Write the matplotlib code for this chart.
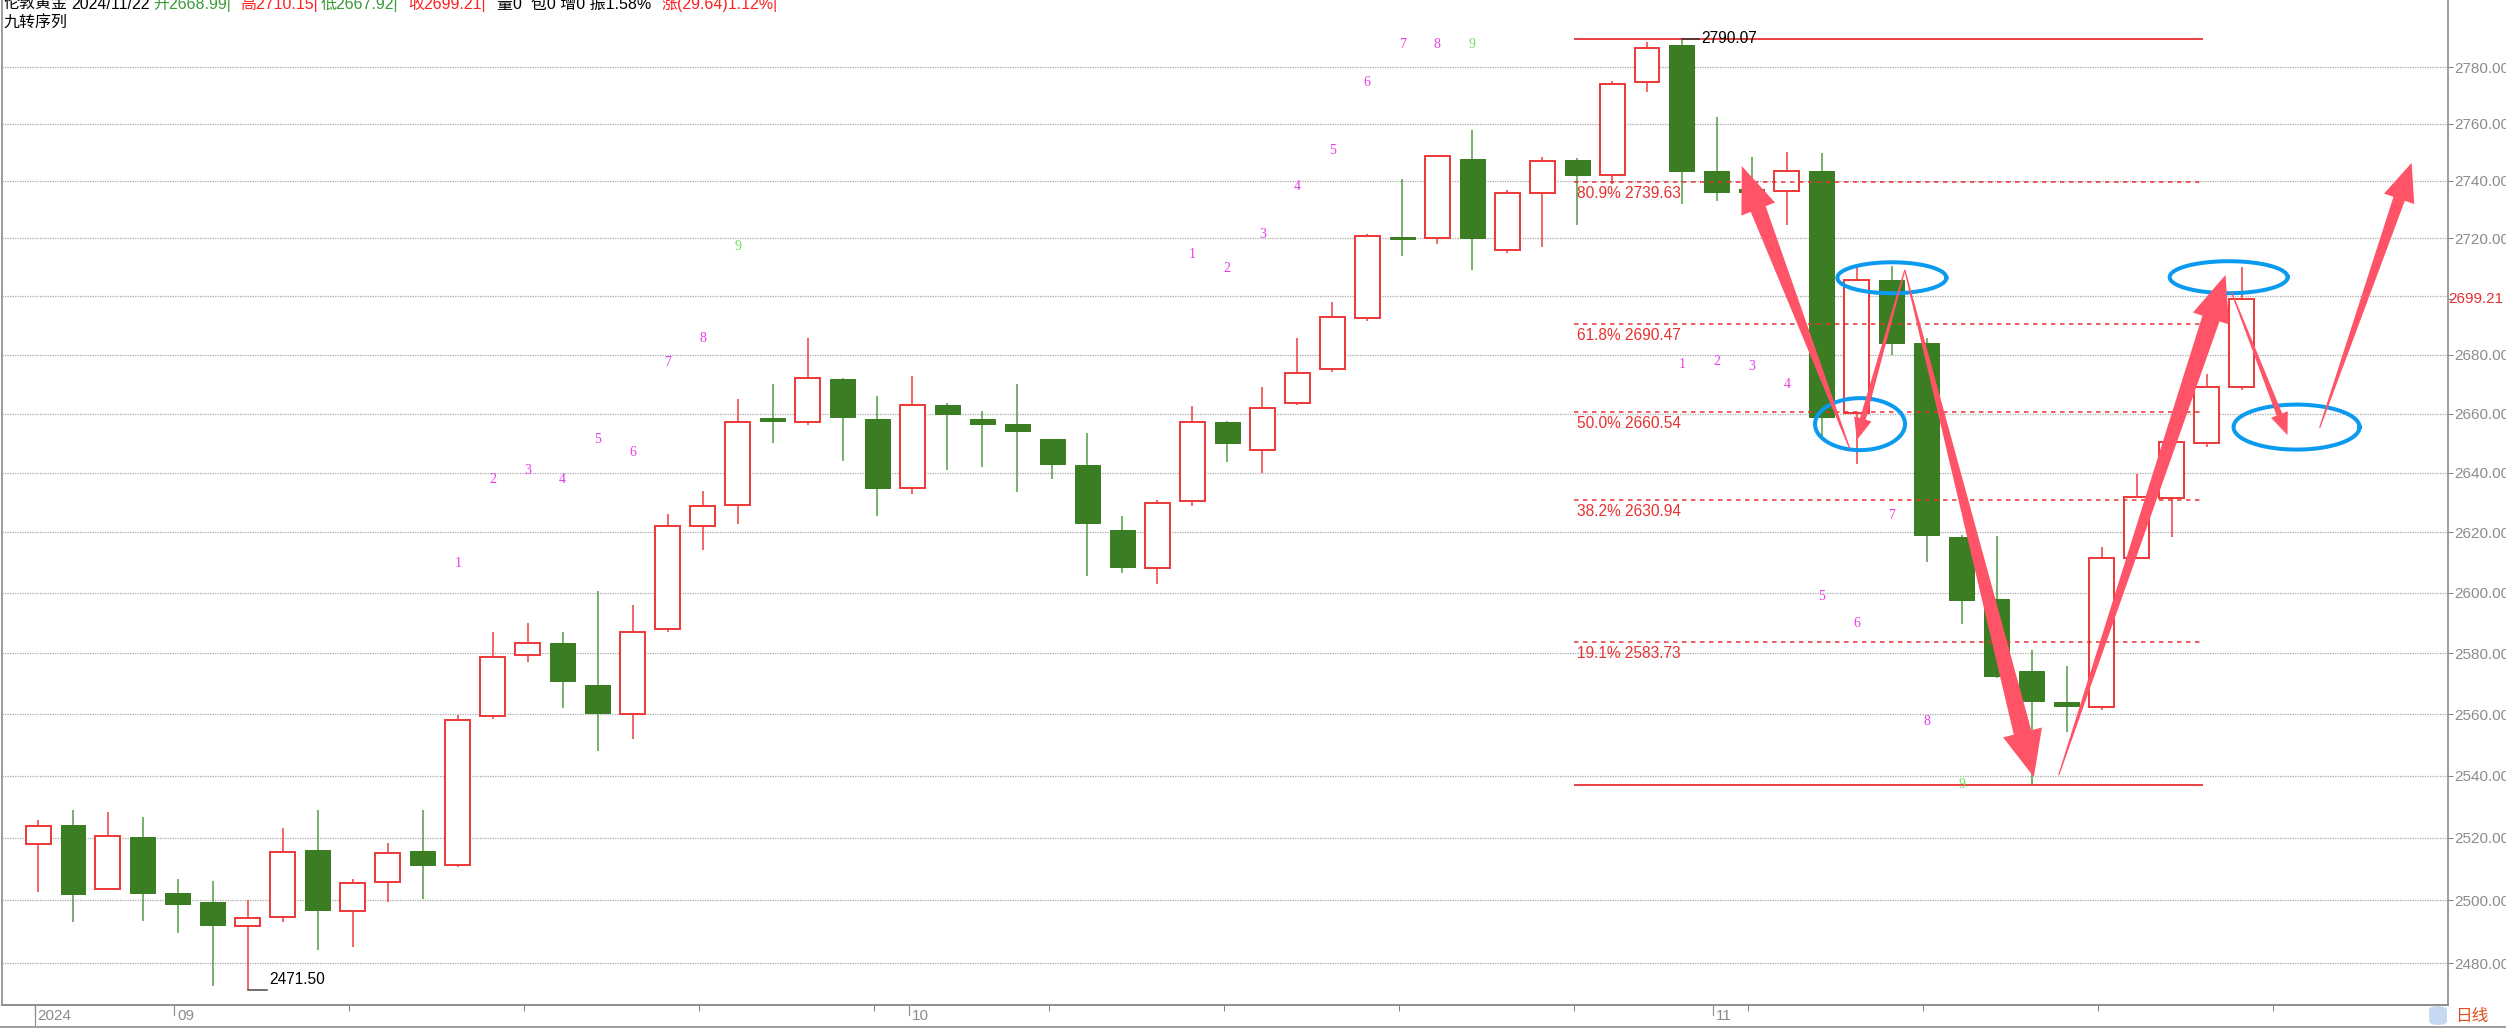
import numpy as np
import matplotlib.pyplot as plt
from matplotlib.ticker import NullLocator
from matplotlib.patches import FancyBboxPatch
from matplotlib.lines import Line2D

W, H = 2506, 1028
plt.rcParams['font.family'] = ['Liberation Sans', 'Noto Sans CJK SC', 'DejaVu Sans']

# daily candles, 2024-08-27 .. 2024-11-22 (index 0..63)
opens = [2518.1, 2524.1, 2503.7, 2520.2, 2502.5, 2499.5, 2491.9, 2494.7, 2516.0, 2496.6,
         2505.9, 2515.7, 2511.4, 2559.5, 2579.3, 2583.4, 2569.4, 2560.0, 2588.0, 2622.3,
         2629.3, 2658.5, 2657.0, 2671.6, 2658.0, 2635.0, 2663.0, 2658.3, 2656.3, 2651.3,
         2642.7, 2620.7, 2608.0, 2630.4, 2657.0, 2647.5, 2663.4, 2675.0, 2692.5, 2720.6,
         2720.0, 2747.5, 2716.0, 2735.7, 2747.4, 2741.9, 2774.9, 2787.7, 2743.6, 2737.3,
         2736.5, 2743.3, 2660.3, 2705.6, 2683.9, 2618.6, 2597.8, 2574.1, 2564.0, 2562.4,
         2611.6, 2631.4, 2650.0, 2668.99]
highs = [2525.7, 2528.9, 2528.4, 2526.7, 2506.8, 2506.2, 2500.0, 2523.1, 2528.9, 2506.7,
         2518.2, 2528.9, 2559.6, 2587.0, 2590.0, 2587.0, 2600.5, 2596.0, 2626.0, 2634.0,
         2665.0, 2670.0, 2685.6, 2672.0, 2666.0, 2672.6, 2663.5, 2661.0, 2670.0, 2651.5,
         2653.4, 2625.6, 2631.0, 2662.4, 2657.5, 2669.0, 2685.6, 2698.0, 2721.4, 2740.7,
         2749.0, 2758.0, 2737.0, 2748.4, 2748.0, 2775.1, 2789.0, 2790.07, 2762.3, 2748.2,
         2750.1, 2749.8, 2710.2, 2710.5, 2685.6, 2619.0, 2618.8, 2581.2, 2575.7, 2615.0,
         2639.5, 2650.5, 2673.4, 2710.15]
lows = [2502.7, 2493.2, 2503.2, 2493.6, 2489.7, 2472.9, 2471.5, 2493.0, 2484.4, 2485.1,
        2499.5, 2500.4, 2510.6, 2558.4, 2577.0, 2562.0, 2548.0, 2552.0, 2587.0, 2614.0,
        2622.8, 2650.0, 2656.0, 2644.0, 2625.6, 2633.0, 2641.0, 2642.0, 2633.5, 2638.0,
        2605.5, 2606.5, 2603.0, 2629.0, 2643.5, 2640.0, 2663.0, 2674.0, 2691.4, 2714.0,
        2718.0, 2709.0, 2715.0, 2717.0, 2724.7, 2739.0, 2771.2, 2731.9, 2733.0, 2731.0,
        2724.7, 2652.2, 2643.1, 2679.9, 2610.2, 2589.5, 2572.0, 2536.9, 2554.1, 2561.5,
        2611.0, 2618.6, 2648.7, 2667.92]
closes = [2523.9, 2501.9, 2520.5, 2502.5, 2499.0, 2492.1, 2494.4, 2515.6, 2496.8, 2505.6,
          2515.3, 2511.3, 2558.2, 2578.8, 2583.4, 2571.0, 2560.5, 2587.0, 2622.0, 2628.7,
          2657.0, 2657.5, 2672.0, 2658.7, 2635.0, 2663.0, 2660.0, 2656.4, 2654.0, 2643.0,
          2623.0, 2608.6, 2630.0, 2657.0, 2650.0, 2661.8, 2673.6, 2693.0, 2720.7, 2719.8,
          2748.6, 2720.0, 2735.7, 2747.0, 2741.9, 2774.1, 2786.7, 2743.5, 2736.1, 2736.3,
          2743.6, 2658.7, 2705.6, 2683.9, 2619.0, 2597.7, 2572.5, 2564.4, 2562.6, 2611.4,
          2631.9, 2650.2, 2669.0, 2699.21]

# x axis: month starts and mondays
month_pos = [0, 4, 25, 48]
month_labels = ['2024', '09', '10', '11']
week_pos = [9, 14, 19, 24, 29, 34, 39, 44, 49, 54, 59, 64]

y_ticks = [2480, 2500, 2520, 2540, 2560, 2580, 2600, 2620, 2640, 2660, 2680, 2720, 2740, 2760, 2780]
grid_levels = [2480, 2500, 2520, 2540, 2560, 2580, 2600, 2620, 2640, 2660, 2680, 2700, 2720, 2740, 2760, 2780]
last_price = 2699.21

# fibonacci retracement (log scale)
swing_high = 2790.07
swing_low = 2537.0
fib_pct = ['80.9%', '61.8%', '50.0%', '38.2%', '19.1%']
fib_vals = [2739.63, 2690.47, 2660.54, 2630.94, 2583.73]
fib_span = (43.9, 61.9)

# TD sequential (九转) setups
sell_starts = [12, 33]
buy_starts = [47]

# hand drawn marks: ellipses (centre index, centre price, w px, h px)
ell_x = [52.09, 53.0, 62.63, 64.57]
ell_p = [2656.4, 2706.4, 2706.6, 2655.4]
ell_w = [90, 109, 118, 126]
ell_h = [52, 31, 32, 45]

# arrows (tail index, tail price, head index, head price, shaft px, head width px, head length px)
arr_x0 = [51.8, 53.37, 53.37, 57.77, 62.71, 65.23]
arr_p0 = [2648.0, 2709.1, 2709.1, 2540.2, 2701.5, 2655.1]
arr_x1 = [48.71, 52.0, 57.06, 62.54, 64.31, 67.86]
arr_p1 = [2745.2, 2651.0, 2539.6, 2707.4, 2652.7, 2746.3]
arr_shaft = [16, 6, 18, 18, 6, 12]
arr_hw = [36, 18, 40, 38, 18, 32]
arr_hl = [46, 22, 46, 46, 22, 38]

UP = '#EE3B3B'
DOWN = '#3A7D22'
DOWN_WICK = '#4E9A3E'
GRAY = '#8C8C8C'
PX = 0.72

fig = plt.figure(figsize=(W / 100, H / 100), dpi=100)
fig.patch.set_facecolor('white')
ax = fig.add_axes([2 / W, 23 / H, 2446 / W, 1005 / H])
ax.set_yscale('log')
ax.set_xlim(-1.03, 68.9)
ax.set_ylim(2466.9, 2803.9)
ax.yaxis.set_minor_locator(NullLocator())
ax.xaxis.set_minor_locator(NullLocator())

for g in grid_levels:
    ax.axhline(g, color='#A8A8A8', lw=0.9, ls=(0, (1, 1)), zorder=0)

# candles
idx = np.arange(len(opens))
bw = 25 / 35
for i in idx:
    o, h, l, c = opens[i], highs[i], lows[i], closes[i]
    top, bot = max(o, c), min(o, c)
    if c >= o:
        ax.vlines(i, top, h, color=UP, lw=1.5 * PX, zorder=2)
        ax.vlines(i, l, bot, color=UP, lw=1.5 * PX, zorder=2)
        ax.bar(i, top - bot, bottom=bot, width=bw, facecolor='white', edgecolor=UP, lw=2 * PX, zorder=3)
    else:
        ax.vlines(i, l, h, color=DOWN_WICK, lw=1.5 * PX, zorder=2)
        ax.bar(i, max(top - bot, 0.4), bottom=bot, width=bw, facecolor=DOWN, edgecolor=DOWN, lw=1 * PX, zorder=3)

# fib lines
ax.hlines([swing_high, swing_low], *fib_span, color='#E84545', lw=2 * PX, zorder=4)
for pct, v in zip(fib_pct, fib_vals):
    ax.hlines(v, *fib_span, color='#E83030', lw=1.5 * PX, ls=(0, (3, 3)), zorder=4)
    ax.annotate(f'{pct} {v:.2f}', (fib_span[0], v), xytext=(3, -4), textcoords='offset pixels',
                ha='left', va='top', color='#E83030', fontsize=11.2, zorder=6)

# extreme markers
i_hi = int(np.argmax(highs))
i_lo = int(np.argmin(lows))
ax.plot([i_hi, i_hi + 0.5], [highs[i_hi]] * 2, color='#333333', lw=1.5 * PX, zorder=5)
ax.annotate(f'{highs[i_hi]:.2f}', (i_hi + 0.55, highs[i_hi]), ha='left', va='center',
            fontsize=11.2, color='black', zorder=6)
ax.plot([i_lo, i_lo + 0.55], [lows[i_lo]] * 2, color='#444444', lw=1.5 * PX, zorder=5)
ax.annotate(f'{lows[i_lo]:.2f}', (i_lo + 0.62, lows[i_lo]), xytext=(0, 3), textcoords='offset pixels',
            ha='left', va='bottom', fontsize=11.2, color='black', zorder=6)

# TD numbers
fig.canvas.draw()
to_px = ax.transData.transform
to_data = ax.transData.inverted().transform
top_px = H - 45
for s in sell_starts:
    for k in range(9):
        i = s + k
        y = min(to_px((i, highs[i]))[1] + 152, top_px)
        xd, yd = to_data((to_px((i, highs[i]))[0], y))
        ax.text(xd, yd, str(k + 1), ha='center', va='center', fontsize=10,
                family='Liberation Serif', color='#6CE05C' if k == 8 else '#E83CE8', zorder=6)
for s in buy_starts:
    for k in range(9):
        i = s + k
        p = to_px((i, lows[i]))
        xd, yd = to_data((p[0], p[1] - 160))
        ax.text(xd, yd, str(k + 1), ha='center', va='center', fontsize=10,
                family='Liberation Serif', color='#6CE05C' if k == 8 else '#E83CE8', zorder=6)

# ellipses
t = np.linspace(0, 2 * np.pi, 200)
for cx, cp, w, h in zip(ell_x, ell_p, ell_w, ell_h):
    c = to_px((cx, cp))
    pts = np.column_stack([c[0] + w / 2 * np.cos(t), c[1] + h / 2 * np.sin(t)])
    d = to_data(pts)
    ax.plot(d[:, 0], d[:, 1], color='#0A9BF0', lw=4 * PX, zorder=7)

# fat arrows
for x0, p0, x1, p1, sw, hw, hl in zip(arr_x0, arr_p0, arr_x1, arr_p1, arr_shaft, arr_hw, arr_hl):
    a = to_px((x0, p0))
    b = to_px((x1, p1))
    u = (b - a) / np.hypot(*(b - a))
    n = np.array([-u[1], u[0]])
    base = b - u * hl
    pts = np.array([a + n * 0.6, base + n * sw / 2, base + n * hw / 2, b,
                    base - n * hw / 2, base - n * sw / 2, a - n * 0.6])
    d = to_data(pts)
    ax.fill(d[:, 0], d[:, 1], color='#FF5468', lw=0, zorder=8)

# axes styling
ax.spines['top'].set_visible(False)
ax.spines['right'].set_color('#808080')
ax.spines['right'].set_linewidth(1.5 * PX)
ax.spines['left'].set_color('#A0A0A0')
ax.spines['left'].set_linewidth(2 * PX)
ax.spines['bottom'].set_color('#909090')
ax.spines['bottom'].set_linewidth(2 * PX)

ax.yaxis.tick_right()
ax.set_yticks(y_ticks)
ax.set_yticklabels([f'{v:.2f}' for v in y_ticks])
ax.tick_params(axis='y', direction='out', length=5 * PX, width=1 * PX, color='#808080',
               labelcolor=GRAY, labelsize=11, pad=1)
ax.text(1.0, last_price, f'{last_price:.2f}', transform=ax.get_yaxis_transform(),
        ha='left', va='center', color='#E83030', fontsize=11)
ax.plot([1.0, 1.0 + 5 / 2446], [last_price] * 2, transform=ax.get_yaxis_transform(),
        color='#808080', lw=PX, clip_on=False)

xt = sorted(month_pos[1:] + week_pos)
ax.set_xticks([p - 0.1 for p in xt])
ax.set_xticklabels([''] * len(xt))
ax.tick_params(axis='x', direction='out', length=6 * PX, width=1 * PX, color='#808080')
xtr = ax.get_xaxis_transform()
ax.plot([month_pos[0] - 0.1] * 2, [0, -21 / 1005], transform=xtr, color='#909090',
        lw=1.2 * PX, clip_on=False)
for p, lab in zip(month_pos, month_labels):
    ax.plot([p - 0.1] * 2, [0, -10 / 1005], transform=xtr, color='#909090', lw=1.2 * PX, clip_on=False)
    ax.text(p - 0.02, -11 / 1005, lab, transform=xtr, ha='left', va='center',
            color=GRAY, fontsize=11)

# bottom strip border and right corner widgets
fig.add_artist(Line2D([0, 1], [1.5 / H, 1.5 / H], color='#A0A0A0', lw=3 * PX))
fig.add_artist(FancyBboxPatch((2429 / W, 3 / H), 18 / W, 19 / H,
                              boxstyle='round,pad=0,rounding_size=0.004',
                              facecolor='#C6D9F1', edgecolor='none'))
fig.text(2455 / W, 1 - 1017 / H, '日线', color='#E0501E', fontsize=12, va='center', ha='left')

# header
hdr = [(3, '伦敦黄金', 'black'), (71, '2024/11/22', 'black'), (153, '开2668.99|', '#3C9A3C'),
       (240, '高2710.15|', '#FF2020'), (321, '低2667.92|', '#3C9A3C'),
       (408, '收2699.21|', '#FF2020'), (497, '量0  包0 增0 振1.58%', 'black'),
       (661, '涨(29.64)1.12%|', '#FF2020')]
for xh, s, col in hdr:
    fig.text(xh / W, 1 - 9 / H, s, color=col, fontsize=11.5, va='baseline', ha='left')
fig.text(3 / W, 1 - 28 / H, '九转序列', color='black', fontsize=11.5, va='baseline', ha='left')

fig.savefig('out.png', dpi=100, facecolor='white')
